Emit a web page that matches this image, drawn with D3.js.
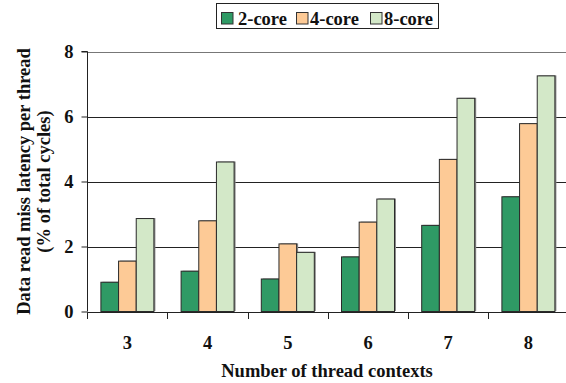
<!DOCTYPE html>
<html><head><meta charset="utf-8">
<script src="https://cdn.jsdelivr.net/npm/d3@7"></script>
<style>
html,body{margin:0;padding:0;background:#fff;}
svg{display:block;}
text{font-family:"Liberation Serif","Times New Roman",serif;font-weight:bold;fill:#111;}
</style></head>
<body>
<svg id="chart" width="566" height="383"></svg>
<script>
const categories = ["3","4","5","6","7","8"];
const seriesNames = ["2-core","4-core","8-core"];
const core2 = [0.90, 1.24, 1.00, 1.68, 2.65, 3.53];
const core4 = [1.55, 2.79, 2.08, 2.75, 4.68, 5.78];
const core8 = [2.86, 4.60, 1.82, 3.46, 6.56, 7.25];
const yTicks = [0, 2, 4, 6, 8];
const colors = ["#2f9a65", "#fdca96", "#d3e8c8"];

const FONT = "Liberation Serif";
const svg = d3.select("#chart");
const seriesVals = [core2, core4, core8];

const x0 = d3.scaleBand().domain(categories).range([87.3, 568.5]).padding(0);
const bw = x0.bandwidth();
const x1 = d3.scaleBand().domain(seriesNames).range([bw/2 - 26.5, bw/2 + 26.5]).padding(0);
const y = d3.scaleLinear().domain([0, 8]).range([311.5, 51.5]);

// gridlines
svg.append("g").selectAll("line").data(yTicks.filter(d => d > 0)).join("line")
  .attr("x1", 87.3).attr("x2", 566)
  .attr("y1", d => Math.round(y(d)) + 0.5).attr("y2", d => Math.round(y(d)) + 0.5)
  .attr("stroke", d => d === 8 ? "#777" : "#222").attr("stroke-width", 1);

// bars
const groups = svg.append("g").selectAll("g").data(categories).join("g")
  .attr("transform", d => `translate(${x0(d)},0)`);
groups.each(function(cat, ci) {
  const g = d3.select(this);
  const data = seriesNames.map((s, si) => ({s, si, v: seriesVals[si][ci]}));
  g.selectAll("rect.sh").data(data).join("rect").attr("class", "sh")
    .attr("x", d => x1(d.s) + 1.5).attr("width", x1.bandwidth())
    .attr("y", d => y(d.v) - 0.5).attr("height", d => y(0) - y(d.v))
    .attr("fill", "#8a8a8a");
  g.selectAll("rect.bar").data(data).join("rect").attr("class", "bar")
    .attr("x", d => x1(d.s)).attr("width", x1.bandwidth())
    .attr("y", d => y(d.v)).attr("height", d => y(0) - y(d.v))
    .attr("fill", d => colors[d.si]).attr("stroke", "#2a2a2a").attr("stroke-width", 1);
});

// y axis
const yAxis = d3.axisLeft(y).tickValues(yTicks).tickSize(6).tickPadding(8).tickFormat(d3.format("d"));
const gy = svg.append("g").attr("transform", "translate(87.5,0)").call(yAxis);
gy.select(".domain").attr("stroke", "#222").attr("d", `M-6,${y(8)}H0V${y(0)}`);
gy.selectAll(".tick line").attr("stroke", "#222");
gy.selectAll(".tick text").attr("font-size", 18.5).attr("font-family", FONT).attr("font-weight", "bold").attr("fill", "#111");

// x axis
const xAxis = d3.axisBottom(x0).tickSize(0).tickPadding(23);
const gx = svg.append("g").attr("transform", `translate(0,${Math.round(y(0)) + 0.5})`).call(xAxis);
gx.select(".domain").attr("stroke", "#222").attr("d", "M87.3,0H566");
gx.selectAll(".tick text").attr("font-size", 18.5).attr("font-family", FONT).attr("font-weight", "bold").attr("fill", "#111");
svg.append("g").selectAll("line").data(categories).join("line")
  .attr("x1", d => Math.round(x0(d)) + 0.5).attr("x2", d => Math.round(x0(d)) + 0.5)
  .attr("y1", Math.round(y(0)) + 0.5).attr("y2", Math.round(y(0)) + 7)
  .attr("stroke", "#222");

// axis titles
svg.append("text").attr("x", 327).attr("y", 377).attr("text-anchor", "middle")
  .attr("font-family", FONT).attr("font-weight", "bold")
  .attr("font-size", 18.5).text("Number of thread contexts");
svg.append("text").attr("transform", "translate(29.5,181.5) rotate(-90)").attr("text-anchor", "middle")
  .attr("font-family", FONT).attr("font-weight", "bold")
  .attr("font-size", 18.5).text("Data read miss latency per thread");
svg.append("text").attr("transform", "translate(49.5,181.5) rotate(-90)").attr("text-anchor", "middle")
  .attr("font-family", FONT).attr("font-weight", "bold")
  .attr("font-size", 18.5).text("(% of total cycles)");

// legend
const lg = svg.append("g");
lg.append("rect").attr("x", 216.5).attr("y", 3.5).attr("width", 222).attr("height", 25)
  .attr("fill", "#fff").attr("stroke", "#222").attr("stroke-width", 1);
const swatchX = [221, 296, 370];
const textX = [238, 310, 384];
seriesNames.forEach((s, i) => {
  lg.append("rect").attr("x", swatchX[i] + 0.5).attr("y", 12.5).attr("width", 11.5).attr("height", 11.5)
    .attr("fill", colors[i]).attr("stroke", "#333");
  lg.append("text").attr("x", textX[i]).attr("y", 24.5)
    .attr("font-family", FONT).attr("font-weight", "bold")
    .attr("font-size", 18.5).text(s);
});
</script>
</body></html>
